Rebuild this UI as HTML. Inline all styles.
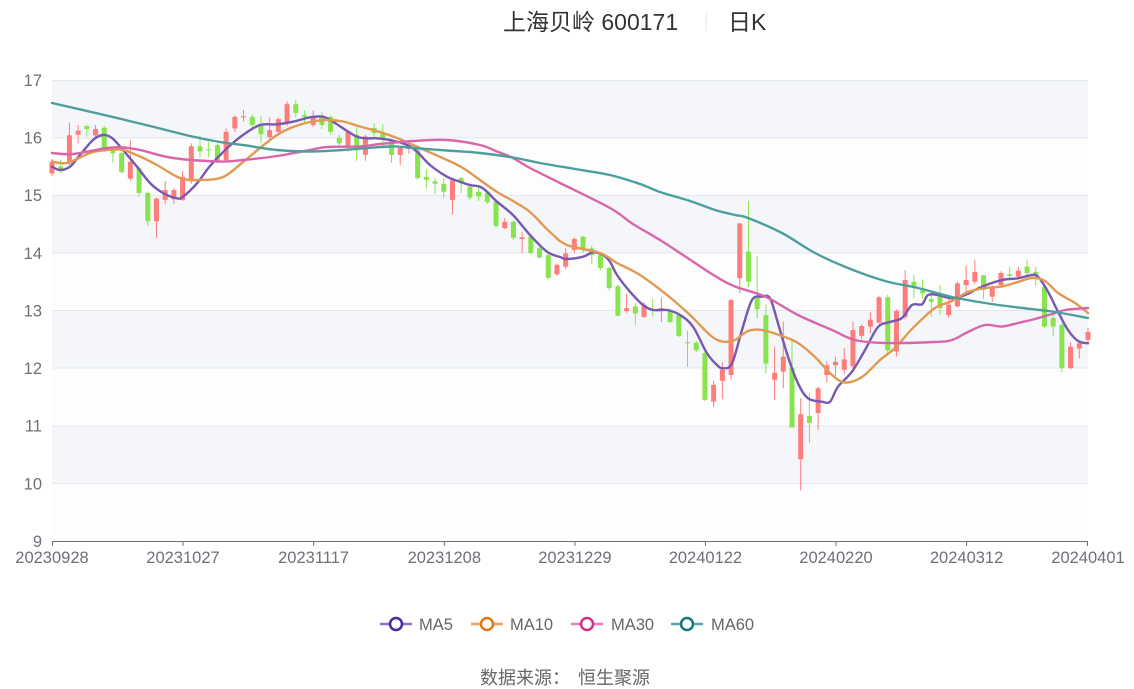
<!DOCTYPE html>
<html><head><meta charset="utf-8">
<style>
html,body{margin:0;padding:0;background:#fff;width:1134px;height:689px;overflow:hidden;}
svg{display:block;}
text{font-family:"Liberation Sans","Noto Sans CJK SC",sans-serif;}
</style></head><body>
<svg id="c" width="1134" height="689" viewBox="0 0 1134 689" xmlns="http://www.w3.org/2000/svg">
<rect x="0" y="0" width="1134" height="689" fill="#ffffff"/>
<!-- bands -->
<rect x="52" y="80" width="1036" height="57.625" fill="#f5f6fa"/>
<rect x="52" y="137.625" width="1036" height="57.625" fill="#fdfdfd"/>
<rect x="52" y="195.25" width="1036" height="57.625" fill="#f5f6fa"/>
<rect x="52" y="252.875" width="1036" height="57.625" fill="#fdfdfd"/>
<rect x="52" y="310.5" width="1036" height="57.625" fill="#f5f6fa"/>
<rect x="52" y="368.125" width="1036" height="57.625" fill="#fdfdfd"/>
<rect x="52" y="425.75" width="1036" height="57.625" fill="#f5f6fa"/>
<rect x="52" y="483.375" width="1036" height="57.625" fill="#fdfdfd"/>
<g stroke="#e3e7f0" stroke-width="1">
<line x1="52" x2="1088" y1="80.5" y2="80.5"/>
<line x1="52" x2="1088" y1="138" y2="138"/>
<line x1="52" x2="1088" y1="195.5" y2="195.5"/>
<line x1="52" x2="1088" y1="253" y2="253"/>
<line x1="52" x2="1088" y1="310.5" y2="310.5"/>
<line x1="52" x2="1088" y1="368" y2="368"/>
<line x1="52" x2="1088" y1="426" y2="426"/>
<line x1="52" x2="1088" y1="483.5" y2="483.5"/>
</g>
<!-- axis -->
<g stroke="#6e7079" stroke-width="1">
<line x1="52" x2="1088" y1="541.5" y2="541.5"/>
<line x1="52.5" x2="52.5" y1="541" y2="546"/>
<line x1="183" x2="183" y1="541" y2="546"/>
<line x1="313.6" x2="313.6" y1="541" y2="546"/>
<line x1="444.3" x2="444.3" y1="541" y2="546"/>
<line x1="574.9" x2="574.9" y1="541" y2="546"/>
<line x1="705.4" x2="705.4" y1="541" y2="546"/>
<line x1="836" x2="836" y1="541" y2="546"/>
<line x1="966.6" x2="966.6" y1="541" y2="546"/>
<line x1="1087.5" x2="1087.5" y1="541" y2="546"/>
</g>
<g font-size="16.5" fill="#6e7079" text-anchor="end">
<text x="42" y="86">17</text>
<text x="42" y="143.6">16</text>
<text x="42" y="201.2">15</text>
<text x="42" y="258.9">14</text>
<text x="42" y="316.5">13</text>
<text x="42" y="374.1">12</text>
<text x="42" y="431.7">11</text>
<text x="42" y="489.4">10</text>
<text x="42" y="547">9</text>
</g>
<g font-size="16.5" fill="#6e7079" text-anchor="middle">
<text x="52" y="563">20230928</text>
<text x="183" y="563">20231027</text>
<text x="313.6" y="563">20231117</text>
<text x="444.3" y="563">20231208</text>
<text x="574.9" y="563">20231229</text>
<text x="705.4" y="563">20240122</text>
<text x="836" y="563">20240220</text>
<text x="966.6" y="563">20240312</text>
<text x="1088" y="563">20240401</text>
</g>
<g id="candles"></g>
<g id="lines" fill="none" stroke-width="2.4" stroke-linejoin="round" stroke-linecap="round"></g>
<!-- title -->
<text x="503" y="30" font-size="23" fill="#333333" font-family="'Liberation Sans','Noto Sans CJK SC',sans-serif">上海贝岭 600171</text>
<line x1="706" x2="706" y1="13" y2="31" stroke="#e0e0e0" stroke-width="1"/>
<text x="728" y="30" font-size="23" fill="#333333" font-family="'Liberation Sans','Noto Sans CJK SC',sans-serif">日K</text>
<!-- legend -->
<g stroke-width="2.5">
<line x1="380" x2="412" y1="624" y2="624" stroke="#8a72c4"/>
<circle cx="396" cy="624" r="6" fill="#fff" stroke="#4a2a9a"/>
<line x1="471" x2="503" y1="624" y2="624" stroke="#eba262"/>
<circle cx="487" cy="624" r="6" fill="#fff" stroke="#e0781a"/>
<line x1="571" x2="603" y1="624" y2="624" stroke="#e47bbb"/>
<circle cx="587" cy="624" r="6" fill="#fff" stroke="#d02f8a"/>
<line x1="671" x2="703" y1="624" y2="624" stroke="#5aa8a8"/>
<circle cx="687" cy="624" r="6" fill="#fff" stroke="#177a7a"/>
</g>
<g font-size="16.5" fill="#666666">
<text x="419" y="630">MA5</text>
<text x="510" y="630">MA10</text>
<text x="611" y="630">MA30</text>
<text x="711" y="630">MA60</text>
</g>
<g font-size="18" fill="#666666">
<text x="480" y="684">数据来源：</text>
<text x="578" y="684">恒生聚源</text>
</g>
</svg>
<script>
var D=[[15.38,15.58,15.33,15.63],[15.50,15.45,15.38,15.62],[15.55,16.04,15.52,16.26],[16.05,16.12,15.9,16.22],[16.2,16.15,16.02,16.22],
[16.04,16.15,15.98,16.22],[16.17,15.82,15.75,16.2],[15.82,15.73,15.57,15.85],[15.73,15.40,15.38,15.75],[15.29,15.58,15.25,15.95],
[15.47,15.04,14.97,15.5],[15.04,14.55,14.47,15.06],[14.55,14.94,14.26,14.96],[14.92,15.09,14.85,15.25],[14.93,15.09,14.85,15.12],
[14.92,15.32,14.9,15.42],[15.24,15.85,15.2,15.9],[15.85,15.76,15.65,16.03],[15.80,15.78,15.66,15.93],[15.87,15.61,15.55,15.9],
[15.61,16.10,15.58,16.16],[16.16,16.36,16.1,16.39],[16.35,16.37,16.28,16.48],[16.36,16.22,16.15,16.4],[16.24,16.06,15.9,16.38],
[16.01,16.13,15.98,16.35],[16.10,16.32,16.05,16.35],[16.25,16.58,16.2,16.63],[16.58,16.43,16.35,16.65],[16.39,16.36,16.25,16.47],
[16.22,16.36,16.18,16.47],[16.36,16.22,16.15,16.45],[16.36,16.10,16.05,16.38],[16.0,15.9,15.85,16.05],[15.84,16.10,15.76,16.13],
[16.05,15.78,15.6,16.18],[15.70,16.02,15.6,16.05],[16.17,16.08,16.0,16.25],[16.08,15.96,15.85,16.23],[15.96,15.70,15.56,15.98],
[15.70,15.82,15.53,15.85],[15.80,15.82,15.72,15.88],[15.78,15.30,15.27,15.8],[15.32,15.27,15.12,15.45],[15.24,15.20,15.02,15.3],
[15.2,15.06,14.95,15.3],[14.92,15.26,14.67,15.3],[15.30,15.21,15.04,15.32],[15.15,14.96,14.92,15.17],[15.06,14.98,14.9,15.16],
[15.04,14.88,14.85,15.06],[14.89,14.47,14.43,14.9],[14.43,14.54,14.41,14.6],[14.54,14.26,14.22,14.56],[14.24,14.27,14.0,14.36],
[14.28,14.0,13.98,14.3],[14.08,13.92,13.9,14.1],[13.96,13.57,13.54,13.98],[13.63,13.79,13.6,13.82],[13.76,13.99,13.72,14.08],
[14.05,14.24,14.0,14.27],[14.28,14.05,14.0,14.3],[14.08,13.96,13.8,14.12],[13.96,13.74,13.7,13.98],[13.74,13.39,13.35,13.76],
[13.42,12.91,12.9,13.45],[12.99,13.04,12.96,13.29],[13.07,12.95,12.75,13.13],[12.89,13.10,12.87,13.14],[13.02,13.00,12.9,13.2],
[12.99,13.04,12.8,13.22],[12.99,12.80,12.78,13.04],[12.92,12.56,12.54,12.95],[12.45,12.43,12.02,12.65],[12.44,12.31,12.28,12.47],
[12.26,11.45,11.43,12.28],[11.42,11.71,11.32,11.78],[11.78,11.97,11.46,12.1],[11.88,13.18,11.8,13.2],[13.56,14.51,13.30,14.52],
[14.02,13.50,13.4,14.90],[13.24,13.02,12.87,13.95],[12.92,12.08,11.91,13.1],[11.8,11.92,11.45,12.37],[11.94,12.2,11.65,12.81],
[12.0,10.97,10.97,12.49],[10.42,11.2,9.88,11.48],[11.17,11.05,10.7,11.57],[11.22,11.65,10.93,11.68],[11.88,12.05,11.75,12.12],
[12.05,12.11,11.86,12.2],[11.97,12.15,11.9,12.35],[12.03,12.66,11.99,12.81],[12.56,12.73,12.5,12.76],[12.72,12.84,12.6,12.97],
[12.79,13.23,12.77,13.25],[13.23,12.31,12.22,13.27],[12.29,12.99,12.2,13.02],[12.89,13.53,12.85,13.70],[13.50,13.43,13.21,13.61],
[13.35,13.30,13.2,13.54],[13.2,13.15,12.89,13.34],[13.30,13.04,12.92,13.44],[12.92,13.10,12.88,13.22],[13.07,13.47,13.05,13.5],
[13.44,13.53,13.32,13.78],[13.50,13.67,13.46,13.88],[13.61,13.36,13.2,13.62],[13.24,13.41,13.15,13.44],[13.44,13.65,13.42,13.68],
[13.63,13.60,13.55,13.76],[13.59,13.69,13.55,13.76],[13.76,13.65,13.62,13.88],[13.67,13.59,13.43,13.76],[13.41,12.72,12.7,13.43],
[12.87,12.72,12.55,13.0],[12.75,12.0,11.93,12.78],[12.0,12.37,11.98,12.45],[12.34,12.43,12.17,12.45],[12.49,12.63,12.45,12.7]];
var X0=52,STEP=1036/119;
function Y(v){return 80+(17-v)*57.625;}
var s='';
for(var i=0;i<D.length;i++){
 var d=D[i],x=X0+i*STEP,up=d[1]>=d[0],col=up?'#fd7c7c':'#87e44c';
 s+='<line x1="'+x+'" x2="'+x+'" y1="'+Y(d[3])+'" y2="'+Y(d[2])+'" stroke="'+col+'" stroke-width="1"/>';
 var t=Y(Math.max(d[0],d[1])),b=Y(Math.min(d[0],d[1]));
 s+='<rect x="'+(x-2.5)+'" y="'+t+'" width="5" height="'+Math.max(1,b-t)+'" fill="'+col+'"/>';
}
document.getElementById('candles').innerHTML=s;
function path(p){
 var d='M'+p[0][0]+','+p[0][1];
 for(var i=0;i<p.length-1;i++){
  var p0=p[i-1]||p[i],p1=p[i],p2=p[i+1],p3=p[i+2]||p2,t=6;
  d+='C'+(p1[0]+(p2[0]-p0[0])/t)+','+(p1[1]+(p2[1]-p0[1])/t)+' '+(p2[0]-(p3[0]-p1[0])/t)+','+(p2[1]-(p3[1]-p1[1])/t)+' '+p2[0]+','+p2[1];
 }
 return d;
}
var MA5=[[52,166.7],[60,170],[70,166.7],[80,155],[93,140],[103,135],[112,138],[123,150],[137,166.7],[150,183],[163,193],[177,198.3],[183,196.7],[197,183.3],[210,166],[227,148.3],[243,135],[260,125],[277,124.3],[293,121.7],[310,117.3],[323,116.7],[333,121.7],[343,128.3],[357,136.7],[367,138.3],[377,138.3],[390,140],[407,145],[417,151.7],[430,165],[447,176.7],[460,181.7],[470,185],[480,186.7],[487,191.7],[497,201.7],[513,215],[530,235],[547,251.7],[560,257],[567,259],[583,256.7],[593,252.3],[603,255],[610,261.7],[617,275],[630,291.7],[643,305],[653,310],[667,310],[680,315],[693,326.7],[707,353.3],[717,365],[723,368.3],[732,363.3],[742,330],[752,300],[762,296.7],[770,298.3],[778,323.3],[788,356.7],[798,383.3],[808,398.3],[822,401.7],[830,401.7],[838,386.7],[852,371.7],[865,350],[878,327],[890,322],[902,318],[912,305],[922,304.3],[928,295],[938,295],[952,298.3],[965,295],[982,286.7],[1002,280],[1018,278.3],[1032,275],[1038,276.7],[1048,291.7],[1058,311.7],[1068,330],[1078,341],[1088,343.3]];
var MA10=[[52,161.5],[67,163],[90,153],[107,150],[123,150],[140,156.5],[157,165],[180,178],[200,180],[223,177],[243,162],[260,148],[277,135],[293,127],[310,122],[327,120],[343,121.5],[360,126.5],[380,132],[397,138],[413,145],[447,160],[463,168],[480,180],[497,192],[513,201],[530,212],[550,232],[567,245],[600,253],[617,263],[640,275],[667,295],[690,315],[710,335],[722,341.5],[735,340],[748,331],[762,330],[782,336],[798,343],[815,357],[832,375],[845,382.5],[862,377],[880,360],[895,348],[910,331],[918,323],[935,308],[952,301],[968,292],[985,288],[1002,286.5],[1018,282],[1032,278],[1045,281],[1058,293],[1075,303],[1088,313]];
var MA30=[[52,153],[73,154],[107,148],[123,147.5],[140,150],[173,158],[220,161.5],[243,160],[277,156],[310,150],[327,147],[360,146.5],[380,144],[413,141],[447,140],[480,145],[497,151.5],[513,158],[530,168],[560,183],[610,208],[633,224],[660,240],[683,255],[715,276],[735,286.5],[765,296.5],[798,315],[832,330],[855,340],[885,343],[935,342],[952,340],[968,332],[985,325],[1002,326.5],[1018,323],[1035,319],[1052,314],[1065,310],[1088,308]];
var MA60=[[52,103],[100,114],[150,126],[190,136],[220,142],[243,145],[277,150],[310,151.5],[343,150],[390,146.5],[413,148],[447,150.5],[480,153],[513,157.5],[540,163],[575,169],[610,175],[640,184],[660,192],[690,201],[715,210],[735,215],[748,218],[782,233],[815,253],[848,268],[885,281],[918,288],[952,297],[985,303],[1018,307.5],[1052,311.5],[1088,318]];
var L=[[MA5,'#7758b2'],[MA10,'#e29a52'],[MA30,'#d966aa'],[MA60,'#4e9e9e']];
var ls='';
for(var k=0;k<L.length;k++){ls+='<path d="'+path(L[k][0])+'" stroke="'+L[k][1]+'"/>';}
document.getElementById('lines').innerHTML=ls;
</script>
</body></html>
